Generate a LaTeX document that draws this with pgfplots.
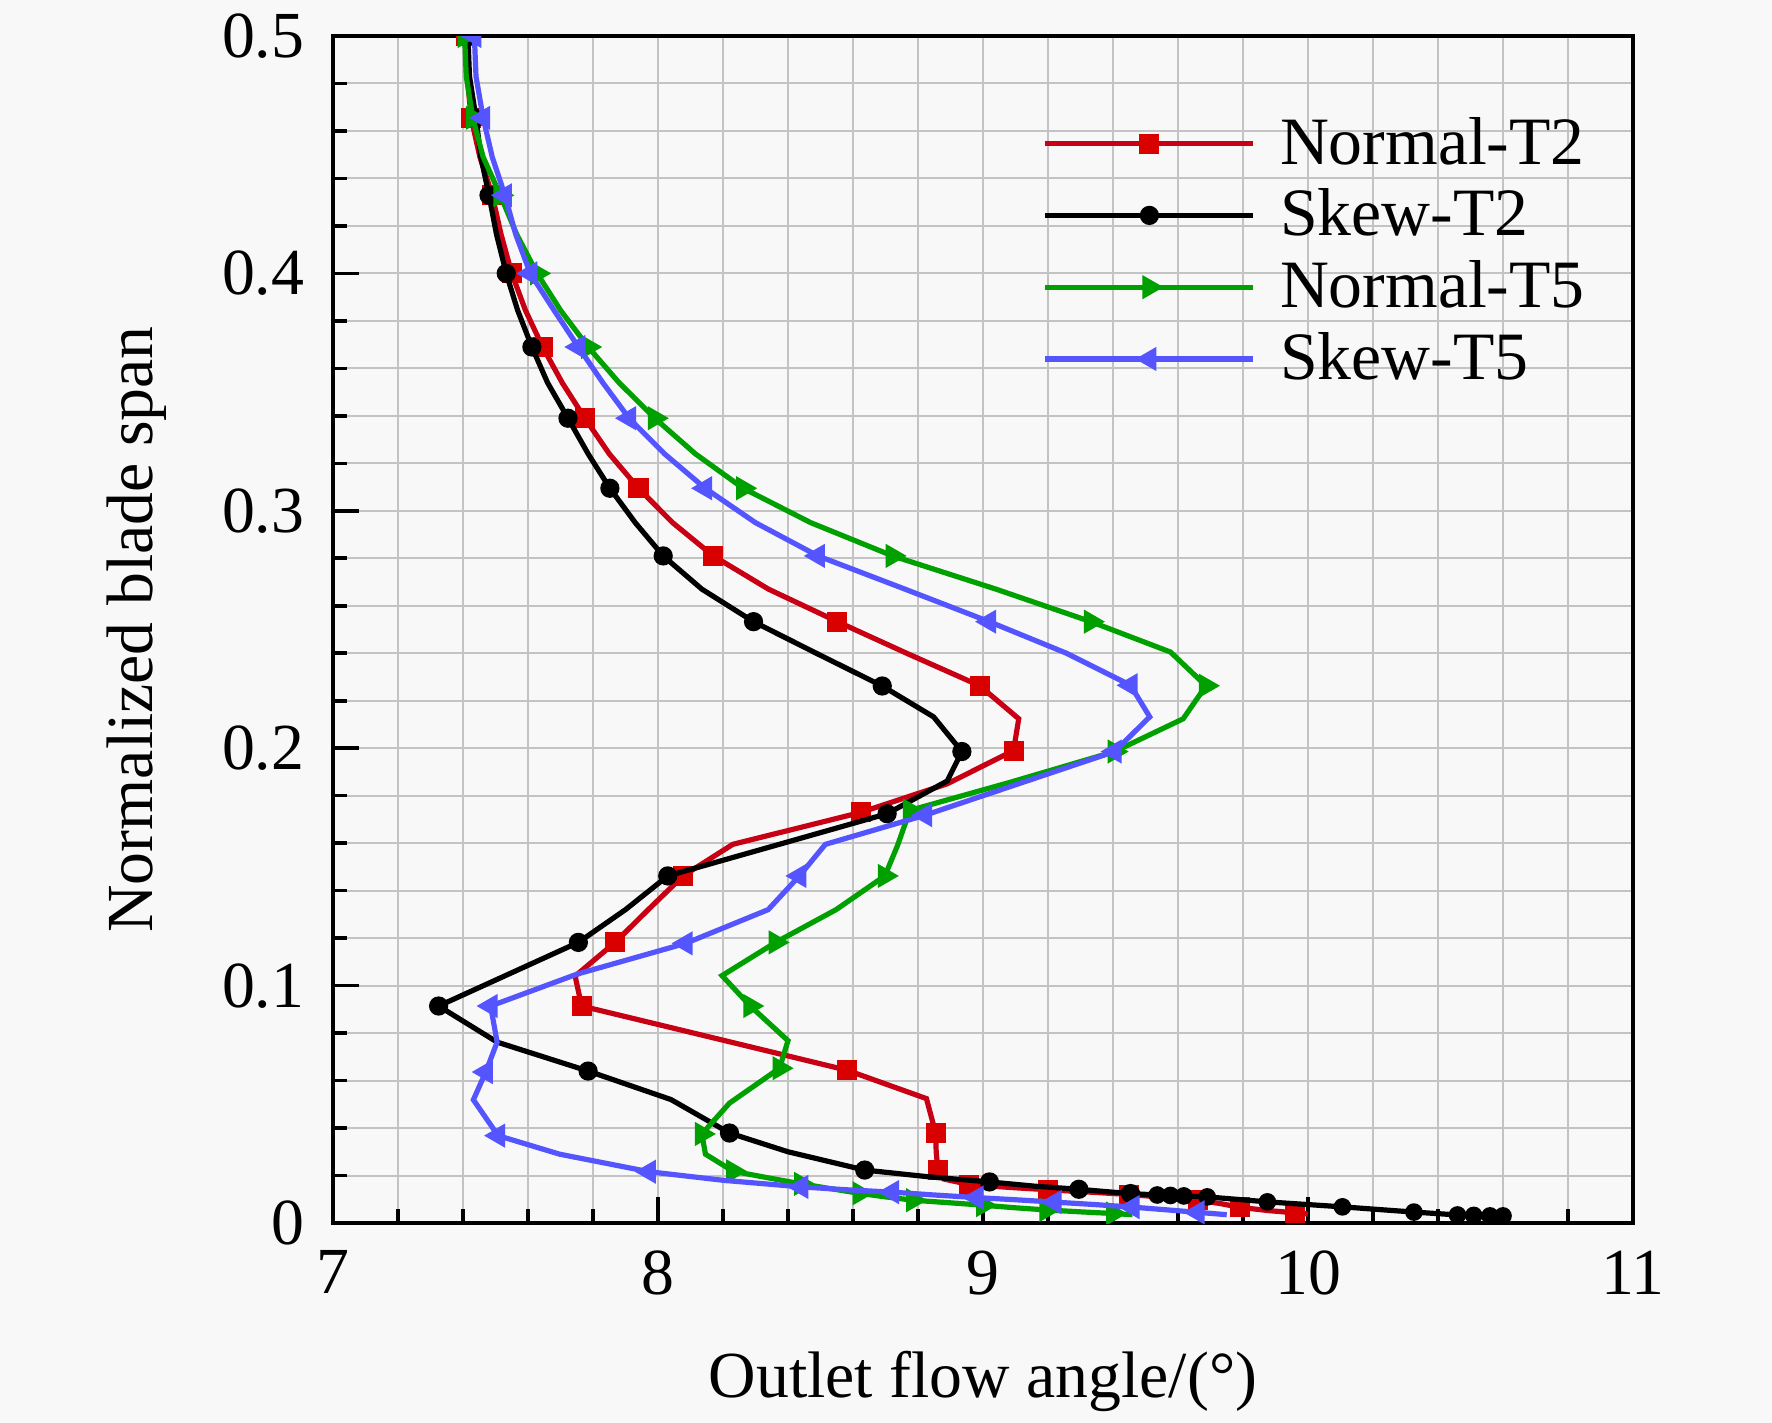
\documentclass[border=0pt]{standalone}
\usepackage{fontspec}
\setmainfont{Liberation Serif}
\usepackage{pgfplots}
\pgfplotsset{compat=1.18}
\definecolor{cred}{RGB}{200,0,20}
\definecolor{cgreen}{RGB}{0,160,0}
\definecolor{cblue}{RGB}{85,85,255}
\definecolor{bgc}{RGB}{248,248,248}
\definecolor{gridc}{RGB}{195,195,195}
\begin{document}
\begin{tikzpicture}
\fill[bgc] (-83.25bp,-50bp) rectangle (359.75bp,305.75bp);
\begin{axis}[
  at={(0,0)}, anchor=south west,
  scale only axis, width=325bp, height=296.75bp,
  xmin=7, xmax=11, ymin=0, ymax=0.5,
  xtick={7,8,9,10,11}, ytick={0,0.1,0.2,0.3,0.4,0.5},
  minor x tick num=4, minor y tick num=4,
  grid=both,
  major grid style={draw=gridc, line width=0.5bp},
  minor grid style={draw=gridc, line width=0.5bp},
  tick align=inside, xtick pos=bottom, ytick pos=left,
  major tick length=6.5bp, minor tick length=3.5bp,
  tick style={black, line width=0.9bp},
  axis line style={black, line width=1.2bp},
  /pgf/number format/assume math mode=true,
  tick label style={font=\fontsize{16.5}{19}\selectfont},
  xticklabel style={inner sep=0pt, anchor=north, yshift=-6.75bp},
  yticklabel style={inner sep=0pt, anchor=east, xshift=-7bp},
  xlabel={Outlet flow angle/(°)},
  ylabel={Normalized blade span},
  xlabel style={at={(axis description cs:0.5,-0.107)}, anchor=north, inner sep=0pt, font=\fontsize{16.5}{19}\selectfont},
  ylabel style={at={(axis description cs:-0.1277,0.5)}, anchor=south, inner sep=0pt, font=\fontsize{16.5}{19}\selectfont},
  clip marker paths=true,
  legend style={draw=none, fill=none, at={(axis description cs:0.5454,0.934)}, anchor=north west,
    inner sep=0pt, row sep=3.7bp, column sep=5.5bp, font=\fontsize{17}{20}\selectfont,
    nodes={inner sep=0.5bp}},
  legend cell align=left,
  legend image code/.code={\draw[#1, mark repeat=2, mark phase=2] plot coordinates {(0bp,0bp) (26bp,0bp) (52bp,0bp)};},
]
% Normal-T2
\addplot[color=cred, line width=1.3bp, mark=square*, mark size=2.1bp, mark repeat=2, mark options={solid, line width=0.8bp, fill=red!85!black, draw=red!85!black}] coordinates {
(7.41,0.5) (7.413,0.483) (7.425,0.4655) (7.452,0.449) (7.49,0.4329) (7.517,0.4165)
(7.55,0.4) (7.592,0.3845) (7.645,0.369) (7.705,0.354) (7.775,0.339) (7.85,0.324)
(7.94,0.3095) (8.045,0.295) (8.17,0.281) (8.34,0.267) (8.552,0.2533) (8.765,0.240)
(8.99,0.2263) (9.11,0.2124) (9.094,0.1990) (8.89,0.185) (8.625,0.1730) (8.23,0.1595)
(8.077,0.1462) (7.97,0.132) (7.868,0.1182) (7.745,0.1040) (7.765,0.0914) (8.17,0.078)
(8.583,0.0643) (8.826,0.0524) (8.854,0.038) (8.856,0.030) (8.861,0.0224) (8.88,0.0185)
(8.958,0.0162) (9.08,0.0150) (9.2,0.0140) (9.33,0.0130) (9.45,0.0120) (9.56,0.0108)
(9.66,0.0096) (9.73,0.0082) (9.79,0.0066) (9.88,0.0052) (9.96,0.0043) (10.0,0.0038)
};
\addlegendentry{Normal-T2}
% Skew-T2
\addplot[color=black, line width=1.3bp, mark=*, mark size=2bp, mark repeat=2, mark options={solid, line width=0.8bp}] coordinates {
(7.415,0.5) (7.42,0.483) (7.44,0.4655) (7.455,0.449) (7.48,0.4329) (7.503,0.4165)
(7.533,0.4) (7.568,0.3845) (7.612,0.369) (7.66,0.354) (7.723,0.339) (7.785,0.324)
(7.852,0.3095) (7.93,0.295) (8.016,0.281) (8.135,0.267) (8.294,0.2533) (8.487,0.240)
(8.69,0.2262) (8.848,0.2132) (8.935,0.1986) (8.89,0.1862) (8.705,0.1724) (8.36,0.159)
(8.03,0.1462) (7.9,0.132) (7.755,0.1182) (7.54,0.1048) (7.325,0.0914) (7.505,0.0762)
(7.785,0.064) (8.04,0.052) (8.22,0.0379) (8.40,0.030) (8.636,0.0223) (8.83,0.0195)
(9.02,0.0173) (9.16,0.0155) (9.295,0.0142) (9.38,0.0132) (9.454,0.0124)
};
\addlegendentry{Skew-T2}
\addplot[forget plot, color=black, line width=1.3bp, mark=*, mark size=1.8bp, mark options={solid, line width=0.8bp}] coordinates {
(9.454,0.0124) (9.536,0.0118) (9.577,0.0116) (9.618,0.0114) (9.69,0.011) (9.875,0.0089)
(10.106,0.0068) (10.326,0.0046) (10.46,0.0034) (10.51,0.0032) (10.56,0.003) (10.6,0.003)
};
% Normal-T5
\addplot[color=cgreen, line width=1.3bp, mark=triangle*, mark size=2.7bp, mark repeat=2, mark options={solid, line width=0.8bp, rotate=-90}] coordinates {
(7.405,0.5) (7.41,0.483) (7.43,0.4655) (7.462,0.449) (7.515,0.4329) (7.565,0.4165)
(7.628,0.4) (7.70,0.3845) (7.785,0.369) (7.88,0.354) (7.99,0.339) (8.115,0.324)
(8.262,0.3095) (8.47,0.295) (8.722,0.281) (9.04,0.267) (9.332,0.2533) (9.577,0.2405)
(9.686,0.2263) (9.616,0.2124) (9.405,0.1986) (9.08,0.1855) (8.775,0.1738) (8.737,0.159)
(8.698,0.1462) (8.548,0.132) (8.362,0.1182) (8.197,0.1042) (8.284,0.0914) (8.4,0.0768)
(8.374,0.0652) (8.22,0.0505) (8.135,0.0375) (8.146,0.029) (8.231,0.0218) (8.34,0.019)
(8.44,0.0165) (8.53,0.0145) (8.62,0.0125) (8.70,0.011) (8.785,0.0096) (8.9,0.0085)
(9.0,0.0075) (9.1,0.0064) (9.195,0.0055) (9.3,0.0047) (9.4,0.004) (9.46,0.0035)
};
\addlegendentry{Normal-T5}
% Skew-T5
\addplot[color=cblue, line width=1.3bp, mark=triangle*, mark size=2.7bp, mark repeat=2, mark options={solid, line width=0.8bp, rotate=90}] coordinates {
(7.435,0.5) (7.44,0.483) (7.462,0.4655) (7.49,0.449) (7.529,0.4329) (7.562,0.4165)
(7.607,0.4) (7.68,0.3845) (7.755,0.369) (7.83,0.354) (7.911,0.339) (8.02,0.324)
(8.145,0.3095) (8.3,0.295) (8.492,0.281) (8.76,0.267) (9.019,0.2533) (9.257,0.240)
(9.454,0.2265) (9.513,0.2132) (9.405,0.1986) (9.12,0.1855) (8.822,0.1718) (8.515,0.1595)
(8.435,0.1462) (8.339,0.132) (8.085,0.1178) (7.75,0.1048) (7.485,0.0914) (7.505,0.0762)
(7.47,0.0636) (7.432,0.0519) (7.508,0.0368) (7.697,0.029) (7.972,0.0216) (8.2,0.018)
(8.441,0.0152) (8.58,0.014) (8.72,0.013) (8.85,0.0118) (8.98,0.0107) (9.1,0.0098)
(9.22,0.0088) (9.34,0.0078) (9.46,0.0067) (9.56,0.0056) (9.66,0.0045) (9.75,0.0035)
};
\addlegendentry{Skew-T5}
\end{axis}
\end{tikzpicture}
\end{document}
